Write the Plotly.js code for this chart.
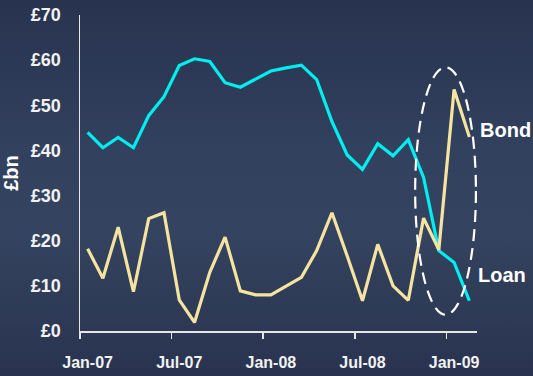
<!DOCTYPE html>
<html>
<head>
<meta charset="utf-8">
<script src="https://cdn.plot.ly/plotly-3.0.1.min.js"></script>
<style>
  html, body { margin: 0; padding: 0; }
  body { width: 533px; height: 376px; overflow: hidden;
    background: linear-gradient(to bottom, #28334f 0%, #32415e 40%, #34435f 62%, #29334f 100%); }
  #chart { width: 533px; height: 376px; }
</style>
</head>
<body>
<div id="chart"></div>
<script>
const months = ["Jan-07","Feb-07","Mar-07","Apr-07","May-07","Jun-07","Jul-07","Aug-07","Sep-07","Oct-07","Nov-07","Dec-07",
                "Jan-08","Feb-08","Mar-08","Apr-08","May-08","Jun-08","Jul-08","Aug-08","Sep-08","Oct-08","Nov-08","Dec-08",
                "Jan-09","Feb-09"];
const loan = [44.0, 40.6, 42.9, 40.6, 47.7, 51.9, 58.8, 60.3, 59.7, 55.0, 54.0, 55.9,
              57.6, 58.3, 58.9, 55.7, 46.4, 39.0, 35.8, 41.5, 38.8, 42.4, 34.0, 17.8,
              15.2, 6.7];
const bond = [18.2, 11.7, 23.0, 8.7, 24.9, 26.2, 6.9, 1.9, 13.0, 20.8, 8.9, 8.0,
              8.0, 10.0, 11.9, 17.8, 26.2, 16.6, 6.7, 19.2, 10.0, 6.8, 25.0, 18.0,
              53.5, 43.0];
const tickLabels = ["Jan-07","Jul-07","Jan-08","Jul-08","Jan-09"];
const yTicks = [0, 10, 20, 30, 40, 50, 60, 70];
const seriesNames = ["Loan", "Bond"];
const highlight = {from: 21.45, to: 25.43, low: 3.6, high: 58.4};

const idx = months.map((m, i) => i);
const tickPos = tickLabels.map(t => months.indexOf(t));
const boundaryPos = tickPos.map(p => p - 0.5);

const xTickFont = {family: "'Liberation Sans', Arial, sans-serif", size: 16, color: "#f2f2f2", weight: 700};
const yTickFont = {family: "'Liberation Sans', Arial, sans-serif", size: 18, color: "#f2f2f2", weight: 700};
const labelFont = {family: "'Liberation Sans', Arial, sans-serif", size: 20, color: "#ffffff", weight: 700};

const traces = [
  {x: idx, y: loan, name: seriesNames[0], type: "scatter", mode: "lines",
   line: {color: "#00eef0", width: 3.2}, hoverinfo: "skip"},
  {x: idx, y: bond, name: seriesNames[1], type: "scatter", mode: "lines",
   line: {color: "#f5e3a0", width: 3.2}, hoverinfo: "skip"}
];

const layout = {
  width: 533, height: 376,
  margin: {l: 80, r: 56, t: 15, b: 45, pad: 0},
  paper_bgcolor: "rgba(0,0,0,0)",
  plot_bgcolor: "rgba(0,0,0,0)",
  showlegend: false,
  xaxis: {
    range: [-0.5, months.length - 0.5],
    tickmode: "array", tickvals: tickPos, ticktext: tickLabels,
    ticks: "", showgrid: false, zeroline: false,
    showline: true, linecolor: "#e6e6e6", linewidth: 1.5,
    tickfont: xTickFont, ticklabelstandoff: 16,
    minor: {tickmode: "array", tickvals: boundaryPos, ticks: "outside", ticklen: 6, tickwidth: 1.5, tickcolor: "#e6e6e6", showgrid: false}
  },
  yaxis: {
    range: [0, 70], tickmode: "array", tickvals: yTicks, ticktext: yTicks.map(v => "£" + v),
    ticks: "", showgrid: false, zeroline: false,
    showline: true, linecolor: "#e6e6e6", linewidth: 1.5,
    tickfont: yTickFont, ticklabelstandoff: 14,
    title: {text: "£bn", font: labelFont, standoff: 9}
  },
  shapes: [{
    type: "circle", xref: "x", yref: "y",
    x0: highlight.from, x1: highlight.to, y0: highlight.low, y1: highlight.high,
    line: {color: "#ffffff", width: 2.2, dash: "12px,7px"}
  }],
  annotations: [
    {x: months.length - 0.5, y: 44.6, xref: "x", yref: "y", text: seriesNames[1], showarrow: false,
     xanchor: "left", yanchor: "middle", xshift: 1, font: labelFont},
    {x: months.length - 0.5, y: 12.5, xref: "x", yref: "y", text: seriesNames[0], showarrow: false,
     xanchor: "left", yanchor: "middle", xshift: -1, font: labelFont}
  ]
};

Plotly.newPlot("chart", traces, layout, {displayModeBar: false, staticPlot: true});
</script>
</body>
</html>
